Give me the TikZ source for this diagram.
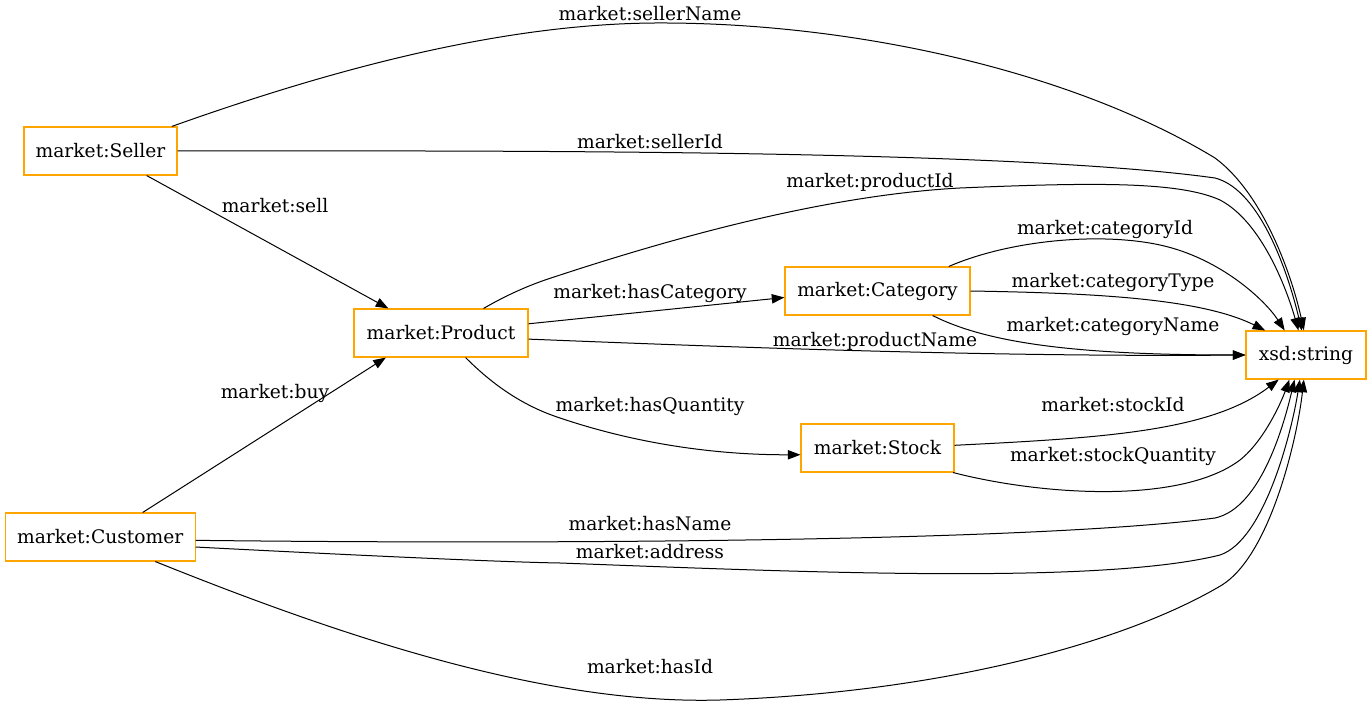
\documentclass[tikz,border=0pt]{standalone}
\usepackage{fontspec}
\setmainfont{DejaVu Serif}
\usetikzlibrary{arrows.meta}
\definecolor{boxorange}{RGB}{255,165,0}
\begin{document}
\begin{tikzpicture}[x=0.75pt,y=-0.75pt,
  cls/.style={draw=boxorange,line width=0.8pt,rectangle,minimum height=36pt,inner sep=0pt,font=\fontsize{14pt}{16pt}\selectfont},
  lbl/.style={font=\fontsize{14pt}{16pt}\selectfont,inner sep=0pt},
  edge/.style={line width=0.75pt,-{Triangle[length=9.5pt,width=7pt]}}]
\useasboundingbox (0,0) rectangle (1371,709);
\node[cls,minimum width=114.75pt] (seller) at (100.5,151) {market:Seller};
\node[cls,minimum width=130.5pt] (product) at (441,333) {market:Product};
\node[cls,minimum width=142.5pt] (cust) at (100.2,537) {market:Customer};
\node[cls,minimum width=138.75pt] (cat) at (877.5,291) {market:Category};
\node[cls,minimum width=114.75pt] (stock) at (877.5,448) {market:Stock};
\node[cls,minimum width=90pt] (str) at (1306,355) {xsd:string};

% labels
\node[lbl] (l1) at (650,14) {market:sellerName};
\node[lbl] (l2) at (650,142) {market:sellerId};
\node[lbl] (l3) at (275,206) {market:sell};
\node[lbl] (l4) at (870,182) {market:productId};
\node[lbl] (l5) at (1105,229) {market:categoryId};
\node[lbl] (l6) at (650,293) {market:hasCategory};
\node[lbl] (l7) at (1113,282) {market:categoryType};
\node[lbl] (l8) at (1113,326) {market:categoryName};
\node[lbl] (l9) at (875,341) {market:productName};
\node[lbl] (l10) at (275,393) {market:buy};
\node[lbl] (l11) at (650,406) {market:hasQuantity};
\node[lbl] (l12) at (1113,405) {market:stockId};
\node[lbl] (l13) at (1113,456) {market:stockQuantity};
\node[lbl] (l14) at (650,524) {market:hasName};
\node[lbl] (l15) at (650,552) {market:address};
\node[lbl] (l16) at (650,667) {market:hasId};

% edges
\draw[edge] (seller.19) .. controls (330,70) and (500,24) .. (655,23) .. controls (850,22) and (1070,70) .. (1215,158) .. controls (1265,195) and (1293,280) .. (str.95);
\draw[edge] (seller.east) .. controls (450,151) and (1000,148) .. (1215,178) .. controls (1262,190) and (1290,280) .. (str.100);
\draw[edge] (seller.332) -- (product.155);
\draw[edge] (product.30) .. controls (505,296) and (525,287) .. (545,280) .. controls (680,235) and (830,195) .. (960,188) .. controls (1100,182) and (1180,182) .. (1220,200) .. controls (1262,222) and (1287,290) .. (str.107);
\draw[edge] (product.6) -- (cat.184);
\draw[edge] (cat.19) .. controls (1010,240) and (1100,232) .. (1160,245) .. controls (1220,258) and (1265,300) .. (str.131);
\draw[edge] (cat.east) .. controls (1090,293) and (1200,298) .. (str.149);
\draw[edge] (cat.336) .. controls (985,342) and (1070,355) .. (str.west);
\draw[edge] (product.356) .. controls (750,348) and (1000,357) .. (str.west);
\draw[edge] (cust.30) -- (product.204);
\draw[edge] (product.315) .. controls (490,382) and (520,405) .. (560,418) .. controls (640,445) and (720,455) .. (stock.185);
\draw[edge] (stock.2) .. controls (1100,438) and (1210,432) .. (str.222);
\draw[edge] (stock.342) .. controls (1040,495) and (1180,505) .. (1240,460) .. controls (1265,440) and (1282,400) .. (str.236);
\draw[edge] (cust.358) .. controls (600,545) and (1050,540) .. (1215,518) .. controls (1262,508) and (1285,420) .. (str.245);
\draw[edge] (cust.354) .. controls (350,555) and (500,562) .. (560,563) .. controls (800,572) and (1100,585) .. (1220,555) .. controls (1265,540) and (1292,430) .. (str.256);
\draw[edge] (cust.336) .. controls (350,640) and (550,705) .. (720,700) .. controls (950,692) and (1130,640) .. (1222,585) .. controls (1270,555) and (1297,440) .. (str.265);
\end{tikzpicture}
\end{document}
